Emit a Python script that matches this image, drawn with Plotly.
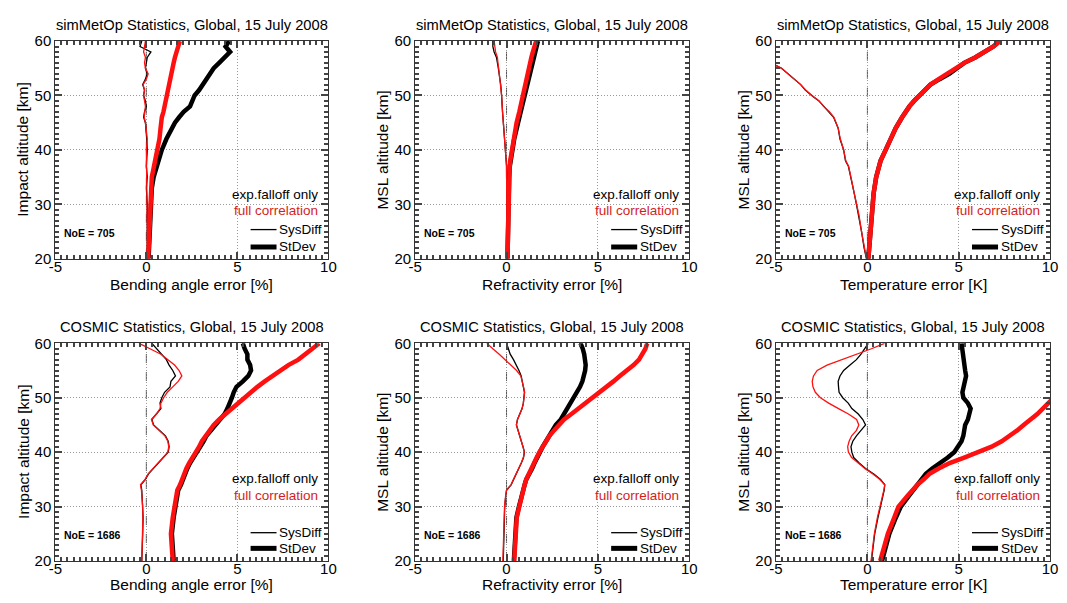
import plotly.graph_objects as go

# ---------------- simMetOp: bending angle ----------------
ALT_MB = [20, 25, 30, 33, 35, 37, 40, 42, 44, 45, 46, 47, 48, 49, 50, 51, 52, 53, 54, 55, 56, 57, 58, 59, 60]
MB_SYS_EXP = [0.05, 0.05, 0.05, 0.0, 0.05, 0.0, 0.05, 0.02, 0.0, -0.05, -0.15, -0.1, 0.0, -0.05, -0.15, -0.1, -0.2, -0.05, 0.05, -0.05, 0.0, 0.05, 0.25, -0.35, -0.25]
MB_STD_EXP = [0.12, 0.18, 0.25, 0.3, 0.4, 0.58, 0.85, 1.1, 1.4, 1.57, 1.8, 2.05, 2.4, 2.55, 2.65, 2.9, 3.1, 3.35, 3.55, 3.7, 4.0, 4.28, 4.6, 4.35, 4.55]
MB_SYS_FULL = [0.07, 0.05, 0.05, 0.05, 0.05, 0.02, 0.0, 0.05, 0.0, -0.05, -0.12, -0.08, -0.05, -0.1, -0.15, -0.1, -0.18, 0.0, 0.1, -0.05, -0.1, -0.05, -0.15, -0.1, -0.05]
MB_STD_FULL = [0.1, 0.15, 0.22, 0.27, 0.3, 0.42, 0.63, 0.72, 0.78, 0.8, 0.85, 0.94, 1.0, 1.05, 1.12, 1.15, 1.2, 1.3, 1.35, 1.4, 1.5, 1.57, 1.65, 1.75, 1.84]

# ---------------- simMetOp: refractivity ----------------
ALT_MN = [20, 25, 30, 35, 37, 38, 40, 42, 45, 47, 50, 52, 55, 56, 57, 58, 59, 60]
MN_SYS_EXP = [0.03, 0.03, 0.02, 0.02, 0.0, -0.02, -0.07, -0.1, -0.18, -0.22, -0.27, -0.32, -0.45, -0.5, -0.55, -0.68, -0.75, -0.75]
MN_STD_EXP = [0.05, 0.07, 0.09, 0.14, 0.18, 0.22, 0.32, 0.42, 0.63, 0.78, 0.99, 1.12, 1.32, 1.4, 1.47, 1.55, 1.62, 1.72]
MN_SYS_FULL = [0.03, 0.03, 0.02, 0.02, 0.0, -0.02, -0.07, -0.1, -0.18, -0.22, -0.27, -0.32, -0.43, -0.47, -0.5, -0.6, -0.65, -0.68]
MN_STD_FULL = [0.05, 0.07, 0.09, 0.13, 0.17, 0.2, 0.3, 0.38, 0.55, 0.7, 0.88, 1.0, 1.2, 1.28, 1.36, 1.44, 1.52, 1.62]

# ---------------- simMetOp: temperature ----------------
ALT_MT = [20, 22, 25, 28, 30, 32, 35, 37, 38, 40, 42, 44, 46, 47, 48, 49, 50, 51, 52, 53, 54, 55, 56, 57, 58, 59, 60]
MT_SYS_EXP = [-0.05, -0.18, -0.32, -0.47, -0.6, -0.72, -0.9, -1.04, -1.2, -1.3, -1.5, -1.6, -1.85, -2.1, -2.4, -2.65, -3.05, -3.4, -3.65, -4.0, -4.37, -4.7, -5.3, -5.9, -6.5, -7.1, -7.7]
MT_STD_EXP = [0.05, 0.1, 0.16, 0.22, 0.27, 0.34, 0.48, 0.62, 0.72, 1.0, 1.25, 1.55, 1.9, 2.08, 2.3, 2.55, 2.85, 3.15, 3.45, 3.95, 4.5, 4.9, 5.3, 5.9, 6.45, 6.9, 7.25]
MT_SYS_FULL = [-0.05, -0.17, -0.32, -0.46, -0.6, -0.72, -0.9, -1.03, -1.18, -1.3, -1.48, -1.6, -1.83, -2.08, -2.4, -2.65, -3.03, -3.38, -3.65, -4.0, -4.35, -4.7, -5.3, -5.9, -6.5, -7.1, -7.7]
MT_STD_FULL = [0.05, 0.1, 0.16, 0.22, 0.27, 0.34, 0.48, 0.62, 0.72, 1.0, 1.25, 1.55, 1.9, 2.08, 2.3, 2.55, 2.85, 3.15, 3.45, 3.9, 4.35, 4.85, 5.3, 5.9, 6.45, 6.9, 7.25]

# ---------------- COSMIC (shared altitude grid) ----------------
ALT_C = [20, 22, 25, 28, 30, 32, 33, 34, 35, 36, 37, 38, 39, 40, 41, 42, 43, 44, 45, 46, 47, 48, 49, 50, 51, 52, 53, 54, 55, 56, 57, 58, 59, 60]

CB_SYS_EXP = [-0.25, -0.22, -0.2, -0.18, -0.2, -0.22, -0.25, -0.3, -0.05, 0.12, 0.4, 0.65, 0.95, 1.2, 1.25, 1.2, 1.05, 0.75, 0.4, 0.3, 0.55, 0.8, 0.75, 0.85, 1.0, 1.3, 1.35, 1.6, 1.45, 1.25, 1.1, 0.85, 0.6, 0.3]
CB_STD_EXP = [1.5, 1.45, 1.4, 1.5, 1.6, 1.7, 1.75, 1.9, 2.0, 2.1, 2.25, 2.4, 2.6, 2.75, 2.95, 3.15, 3.3, 3.55, 3.8, 4.05, 4.3, 4.45, 4.6, 4.7, 4.8, 4.95, 5.3, 5.6, 5.75, 5.7, 5.55, 5.55, 5.4, 5.3]
CB_SYS_FULL = [-0.25, -0.23, -0.2, -0.19, -0.2, -0.23, -0.27, -0.32, -0.07, 0.1, 0.38, 0.63, 0.93, 1.18, 1.23, 1.18, 1.02, 0.72, 0.38, 0.28, 0.55, 0.75, 0.8, 0.95, 1.15, 1.45, 1.75, 1.95, 1.8, 1.55, 1.2, 0.8, 0.2, -0.4]
CB_STD_FULL = [1.45, 1.4, 1.35, 1.45, 1.55, 1.65, 1.7, 1.85, 1.95, 2.05, 2.2, 2.35, 2.55, 2.7, 2.9, 3.05, 3.25, 3.5, 3.7, 4.0, 4.35, 4.7, 5.0, 5.35, 5.7, 6.1, 6.5, 6.9, 7.35, 7.8, 8.35, 8.75, 9.1, 9.5]

CN_SYS_EXP = [-0.18, -0.17, -0.15, -0.12, -0.1, -0.04, 0.0, 0.25, 0.4, 0.54, 0.68, 0.81, 0.93, 0.98, 0.9, 0.8, 0.7, 0.6, 0.54, 0.6, 0.72, 0.85, 0.92, 0.95, 0.98, 0.92, 0.85, 0.8, 0.68, 0.54, 0.38, 0.2, 0.08, 0.0]
CN_STD_EXP = [0.4, 0.42, 0.45, 0.54, 0.68, 0.81, 0.9, 0.99, 1.08, 1.26, 1.4, 1.53, 1.67, 1.8, 1.98, 2.16, 2.34, 2.52, 2.7, 2.97, 3.15, 3.33, 3.5, 3.69, 3.87, 4.02, 4.15, 4.25, 4.3, 4.33, 4.3, 4.25, 4.17, 4.05]
CN_SYS_FULL = [-0.2, -0.19, -0.17, -0.13, -0.11, -0.05, 0.0, 0.24, 0.39, 0.53, 0.67, 0.8, 0.92, 0.97, 0.9, 0.8, 0.7, 0.6, 0.54, 0.6, 0.72, 0.85, 0.92, 0.96, 0.99, 0.93, 0.87, 0.78, 0.55, 0.25, -0.05, -0.4, -0.75, -1.08]
CN_STD_FULL = [0.42, 0.44, 0.47, 0.56, 0.7, 0.82, 0.9, 0.99, 1.08, 1.24, 1.38, 1.5, 1.65, 1.8, 1.97, 2.15, 2.35, 2.6, 2.85, 3.15, 3.55, 3.95, 4.35, 4.72, 5.1, 5.5, 5.85, 6.2, 6.6, 6.95, 7.25, 7.45, 7.6, 7.7]

CT_SYS_EXP = [0.22, 0.3, 0.4, 0.58, 0.72, 0.85, 0.92, 0.95, 0.72, 0.35, -0.1, -0.45, -0.75, -0.85, -0.9, -0.8, -0.6, -0.35, -0.1, -0.25, -0.5, -0.85, -1.05, -1.35, -1.55, -1.58, -1.6, -1.5, -1.3, -0.95, -0.6, -0.35, -0.15, 0.05]
CT_STD_EXP = [0.8, 0.94, 1.2, 1.56, 1.83, 2.28, 2.5, 2.73, 3.0, 3.2, 3.55, 4.0, 4.4, 4.75, 4.98, 5.15, 5.25, 5.3, 5.35, 5.5, 5.6, 5.65, 5.5, 5.25, 5.2, 5.25, 5.35, 5.4, 5.35, 5.3, 5.25, 5.2, 5.18, 5.15]
CT_SYS_FULL = [0.2, 0.28, 0.38, 0.55, 0.7, 0.83, 0.9, 0.95, 0.67, 0.3, -0.14, -0.5, -0.86, -1.04, -1.08, -1.0, -0.86, -0.6, -0.47, -0.59, -1.04, -1.58, -2.12, -2.57, -2.85, -2.98, -3.02, -2.95, -2.75, -2.21, -1.4, -0.5, 0.22, 0.94]
CT_STD_FULL = [0.7, 0.85, 1.12, 1.47, 1.7, 2.2, 2.45, 2.73, 3.09, 3.4, 3.9, 4.5, 5.3, 6.1, 6.8, 7.35, 7.8, 8.2, 8.55, 8.95, 9.3, 9.6, 9.9, 10.2, 10.5, 10.8, 11.1, 11.4, 11.7, 12.0, 12.3, 12.6, 12.9, 13.2]

X_TICKS = [-5, 0, 5, 10]
X_TICKTEXT = ["-5", "0", "5", "10"]
Y_TICKS = [20, 30, 40, 50, 60]

PANELS = [
    # (title, xlabel, ylabel, noe, altitudes, sys_exp, std_exp, sys_full, std_full)
    ("simMetOp Statistics, Global, 15 July 2008", "Bending angle error [%]", "Impact altitude [km]", 705,
     ALT_MB, MB_SYS_EXP, MB_STD_EXP, MB_SYS_FULL, MB_STD_FULL),
    ("simMetOp Statistics, Global, 15 July 2008", "Refractivity error [%]", "MSL altitude [km]", 705,
     ALT_MN, MN_SYS_EXP, MN_STD_EXP, MN_SYS_FULL, MN_STD_FULL),
    ("simMetOp Statistics, Global, 15 July 2008", "Temperature error [K]", "MSL altitude [km]", 705,
     ALT_MT, MT_SYS_EXP, MT_STD_EXP, MT_SYS_FULL, MT_STD_FULL),
    ("COSMIC Statistics, Global, 15 July 2008", "Bending angle error [%]", "Impact altitude [km]", 1686,
     ALT_C, CB_SYS_EXP, CB_STD_EXP, CB_SYS_FULL, CB_STD_FULL),
    ("COSMIC Statistics, Global, 15 July 2008", "Refractivity error [%]", "MSL altitude [km]", 1686,
     ALT_C, CN_SYS_EXP, CN_STD_EXP, CN_SYS_FULL, CN_STD_FULL),
    ("COSMIC Statistics, Global, 15 July 2008", "Temperature error [K]", "MSL altitude [km]", 1686,
     ALT_C, CT_SYS_EXP, CT_STD_EXP, CT_SYS_FULL, CT_STD_FULL),
]

W, H = 1067, 603
FONT = "Liberation Sans, Arial, Helvetica, sans-serif"
BLACK = "#000000"
RED = "#ff1010"
RED_TEXT = "#d41e1e"
TICK = "#444444"
THIN, THICK = 1.3, 4.5

# plot-area pixel boxes (left, right) per column and (top, bottom) per row
COLS = [(49, 326), (414, 692), (780, 1058)]
ROWS = [(33, 257), (344, 568)]

fig = go.Figure()
annotations = []
shapes = []

for i, (title, xlab, ylab, noe, alt, s_exp, d_exp, s_full, d_full) in enumerate(PANELS):
    r, c = divmod(i, 3)
    n = i + 1
    xa = "x" if n == 1 else f"x{n}"
    ya = "y" if n == 1 else f"y{n}"
    xl, xr = COLS[c]
    yt, yb = ROWS[r]

    for xs, col, w in ((s_exp, BLACK, THIN), (d_exp, BLACK, THICK), (s_full, RED, THIN), (d_full, RED, THICK)):
        fig.add_trace(go.Scatter(x=xs, y=alt, mode="lines", xaxis=xa, yaxis=ya,
                                 line=dict(color=col, width=w), showlegend=False, hoverinfo="skip"))

    common = dict(showline=True, linecolor="#333333", linewidth=1, mirror="allticks",
                  ticks="inside", ticklen=7, tickcolor=TICK, tickwidth=1.5,
                  showgrid=True, gridcolor="#999999", griddash="1px,2px", gridwidth=1,
                  zeroline=False, fixedrange=True,
                  tickfont=dict(family=FONT, size=15, color="black"))
    fig.layout[f"xaxis{n if n > 1 else ''}"] = dict(
        common, domain=[xl / W, xr / W], anchor=ya, range=[-5, 10],
        tickmode="array", tickvals=X_TICKS, ticktext=X_TICKTEXT, ticklabelstandoff=-6,
        minor=dict(dtick=1 / 3, tick0=-5, ticks="inside", ticklen=4, tickcolor=TICK, tickwidth=1.5, showgrid=False))
    fig.layout[f"yaxis{n if n > 1 else ''}"] = dict(
        common, domain=[1 - yb / H, 1 - yt / H], anchor=xa, range=[20, 60],
        tickmode="array", tickvals=Y_TICKS,
        minor=dict(dtick=1, ticks="inside", ticklen=4, tickcolor=TICK, tickwidth=1.5, showgrid=False))

    # dashed zero line
    shapes.append(dict(type="line", xref=xa, yref=f"{ya} domain", x0=0, x1=0, y0=0, y1=1,
                       line=dict(color="#555", width=1, dash="dash"), layer="below"))

    # titles
    annotations.append(dict(text=title, x=(xl + xr) / 2 / W, y=1 - (yt - 17) / H, xref="paper", yref="paper",
                            showarrow=False, font=dict(family=FONT, size=14.7, color="black"),
                            xanchor="center", yanchor="middle"))
    annotations.append(dict(text=xlab, x=(xl + xr) / 2 / W, y=1 - (yb + (27 if r == 0 else 24)) / H,
                            xref="paper", yref="paper",
                            showarrow=False, font=dict(family=FONT, size=15.5, color="black"),
                            xanchor="center", yanchor="middle"))
    annotations.append(dict(text=ylab, x=(xl - 33) / W, y=1 - (yt + yb) / 2 / H, xref="paper", yref="paper",
                            showarrow=False, textangle=-90, font=dict(family=FONT, size=15.5, color="black"),
                            xanchor="center", yanchor="middle"))

    # in-plot key
    xd, yd = f"{xa} domain", f"{ya} domain"
    y_exp, y_full = (0.295, 0.223) if r == 0 else (0.378, 0.30)
    annotations.append(dict(text="exp.falloff only", x=0.97, y=y_exp, xref=xd, yref=yd, showarrow=False,
                            xanchor="right", yanchor="middle", font=dict(family=FONT, size=13.5, color="black")))
    annotations.append(dict(text="full correlation", x=0.97, y=y_full, xref=xd, yref=yd, showarrow=False,
                            xanchor="right", yanchor="middle", font=dict(family=FONT, size=13.5, color=RED_TEXT)))
    y_sys, y_std = (0.134, 0.054) if r == 0 else (0.13, 0.058)
    for yy, lab, w in ((y_sys, "SysDiff", THIN), (y_std, "StDev", 5)):
        shapes.append(dict(type="line", xref=xd, yref=yd, x0=0.715, x1=0.81, y0=yy, y1=yy,
                           line=dict(color="black", width=w)))
        annotations.append(dict(text=lab, x=0.812, y=yy, xref=xd, yref=yd, showarrow=False,
                                xanchor="left", yanchor="middle", font=dict(family=FONT, size=13.5, color="black")))
    annotations.append(dict(text=f"<b>NoE = {noe}</b>", x=0.025, y=0.12, xref=xd, yref=yd, showarrow=False,
                            xanchor="left", yanchor="middle", font=dict(family=FONT, size=10.5, color="black")))

fig.update_layout(width=W, height=H, margin=dict(l=0, r=0, t=0, b=0),
                  paper_bgcolor="white", plot_bgcolor="white",
                  annotations=annotations, shapes=shapes, showlegend=False)

fig.write_html("out.html")
